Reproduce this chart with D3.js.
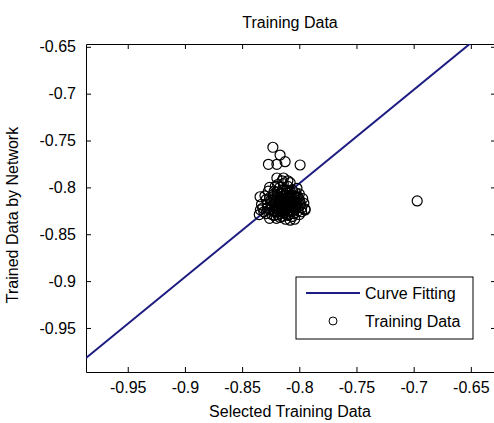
<!DOCTYPE html>
<html>
<head>
<meta charset="utf-8">
<script src="https://cdn.jsdelivr.net/npm/d3@7"></script>
<style>
  body { margin: 0; background: #fff; }
  svg { display: block; font-family: "Liberation Sans", Arial, sans-serif; }
  .axis path, .axis line { stroke: #000; }
</style>
</head>
<body>
<div id="chart"></div>
<script>
// ticks
const xTicks = [-0.95, -0.9, -0.85, -0.8, -0.75, -0.7, -0.65];
const yTicks = [-0.95, -0.9, -0.85, -0.8, -0.75, -0.7, -0.65];

// curve fitting line (two ends)
const fitX = [-0.9865, -0.6280];
const fitY = [-0.9820, -0.6240];

// training data (selected, trained)
const trainX = [
  -0.812, -0.815, -0.808, -0.818, -0.805, -0.811, -0.820, -0.809, -0.814, -0.803,
  -0.822, -0.816, -0.807, -0.801, -0.825, -0.819, -0.813, -0.806, -0.799, -0.828,
  -0.824, -0.817, -0.810, -0.804, -0.798, -0.800, -0.810, -0.817, -0.823, -0.829,
  -0.831, -0.826, -0.812, -0.806, -0.797, -0.802, -0.814, -0.821, -0.827, -0.833,
  -0.835, -0.811, -0.813, -0.809, -0.816, -0.807, -0.804, -0.818, -0.815, -0.810,
  -0.806, -0.802, -0.821, -0.823, -0.819, -0.812, -0.808, -0.803, -0.800, -0.799,
  -0.801, -0.805, -0.813, -0.819, -0.826, -0.828, -0.826, -0.822, -0.815, -0.811,
  -0.796, -0.795, -0.830, -0.832, -0.820, -0.808, -0.817, -0.814, -0.810, -0.807,
  -0.812, -0.816, -0.820, -0.824, -0.818, -0.803, -0.805, -0.809, -0.811, -0.815,
  -0.822, -0.829, -0.834, -0.798, -0.800, -0.804, -0.815, -0.808, -0.819, -0.826,
  -0.813, -0.817, -0.806, -0.809, -0.821,
  -0.814, -0.810, -0.806, -0.818, -0.822, -0.812, -0.808, -0.816, -0.820, -0.804,
  -0.811, -0.815, -0.809, -0.813, -0.817, -0.807, -0.819, -0.803, -0.825, -0.801,
  -0.812, -0.816, -0.810, -0.814, -0.808, -0.818, -0.806, -0.821, -0.823, -0.802,
  -0.8231, -0.8168, -0.8124, -0.8270, -0.8196, -0.7993, -0.7949, -0.8343, -0.6969,
  -0.8196, -0.8138, -0.8100
];
const trainY = [
  -0.815, -0.818, -0.812, -0.821, -0.816, -0.822, -0.812, -0.806, -0.809, -0.820,
  -0.825, -0.828, -0.826, -0.811, -0.817, -0.805, -0.802, -0.803, -0.817, -0.822,
  -0.829, -0.832, -0.830, -0.823, -0.822, -0.807, -0.799, -0.800, -0.808, -0.813,
  -0.826, -0.833, -0.834, -0.831, -0.812, -0.801, -0.796, -0.799, -0.804, -0.818,
  -0.829, -0.818, -0.813, -0.817, -0.814, -0.809, -0.813, -0.817, -0.823, -0.825,
  -0.820, -0.816, -0.819, -0.814, -0.810, -0.808, -0.804, -0.806, -0.813, -0.819,
  -0.825, -0.828, -0.827, -0.826, -0.824, -0.818, -0.811, -0.804, -0.803, -0.803,
  -0.817, -0.823, -0.809, -0.822, -0.833, -0.835, -0.811, -0.820, -0.811, -0.815,
  -0.820, -0.807, -0.815, -0.820, -0.824, -0.810, -0.809, -0.821, -0.828, -0.831,
  -0.830, -0.828, -0.824, -0.826, -0.829, -0.834, -0.793, -0.795, -0.797, -0.800,
  -0.816, -0.819, -0.818, -0.809, -0.822,
  -0.812, -0.814, -0.817, -0.815, -0.818, -0.824, -0.819, -0.811, -0.823, -0.815,
  -0.806, -0.826, -0.829, -0.820, -0.807, -0.822, -0.829, -0.818, -0.814, -0.821,
  -0.816, -0.816, -0.820, -0.825, -0.811, -0.814, -0.824, -0.826, -0.810, -0.809,
  -0.7572, -0.7655, -0.7726, -0.7754, -0.7754, -0.7761, -0.8241, -0.8100, -0.8145,
  -0.7900, -0.7900, -0.7930
];

const W = 494, H = 423;
const mg = { left: 86, top: 44, right: 496, bottom: 372 };

const svg = d3.select('#chart').append('svg')
  .attr('width', W)
  .attr('height', H);

const x = d3.scaleLinear().domain([-0.9865, -0.6280]).range([mg.left, mg.right]);
const y = d3.scaleLinear().domain([-0.997, -0.647]).range([mg.bottom, mg.top]);

svg.append('clipPath').attr('id', 'plot-clip')
  .append('rect')
  .attr('x', mg.left).attr('y', mg.top)
  .attr('width', mg.right - mg.left).attr('height', mg.bottom - mg.top);

// Axes: ticks inward on all four sides
const fmt = d => String(d);
const tickLen = 5;

svg.append('g').attr('class', 'axis')
  .attr('transform', `translate(0,${mg.bottom})`)
  .call(d3.axisBottom(x).tickValues(xTicks).tickSize(-tickLen).tickSizeOuter(0).tickPadding(10).tickFormat(fmt));

svg.append('g').attr('class', 'axis')
  .attr('transform', `translate(0,${mg.top})`)
  .call(d3.axisTop(x).tickValues(xTicks).tickSize(-tickLen).tickSizeOuter(0).tickFormat(''));

svg.append('g').attr('class', 'axis')
  .attr('transform', `translate(${mg.left},0)`)
  .call(d3.axisLeft(y).tickValues(yTicks).tickSize(-tickLen).tickSizeOuter(0).tickPadding(10).tickFormat(fmt));

svg.append('g').attr('class', 'axis')
  .attr('transform', `translate(${mg.right},0)`)
  .call(d3.axisRight(y).tickValues(yTicks).tickSize(-tickLen).tickSizeOuter(0).tickFormat(''));

svg.selectAll('.axis text')
  .style('font-size', '16px')
  .style('fill', '#000');

// Curve fitting line
const fitData = fitX.map((v, i) => ({ x: v, y: fitY[i] }));
svg.append('path')
  .datum(fitData)
  .attr('clip-path', 'url(#plot-clip)')
  .attr('fill', 'none')
  .attr('stroke', '#1c1c82')
  .attr('stroke-width', 2)
  .attr('d', d3.line().x(d => x(d.x)).y(d => y(d.y)));

// Training points
const pts = trainX.map((v, i) => ({ x: v, y: trainY[i] }));
svg.append('g')
  .attr('clip-path', 'url(#plot-clip)')
  .selectAll('circle')
  .data(pts)
  .enter().append('circle')
  .attr('cx', d => x(d.x))
  .attr('cy', d => y(d.y))
  .attr('r', 5)
  .attr('fill', 'none')
  .attr('stroke', '#000')
  .attr('stroke-width', 1.2);

// Title and labels
svg.append('text')
  .attr('x', 290).attr('y', 28)
  .attr('text-anchor', 'middle')
  .style('font-size', '16px')
  .text('Training Data');

svg.append('text')
  .attr('x', 290).attr('y', 417)
  .attr('text-anchor', 'middle')
  .style('font-size', '16px')
  .text('Selected Training Data');

svg.append('text')
  .attr('transform', 'translate(18,215) rotate(-90)')
  .attr('text-anchor', 'middle')
  .style('font-size', '16px')
  .text('Trained Data by Network');

// Legend
const lg = svg.append('g').attr('transform', 'translate(296,277)');
lg.append('rect')
  .attr('width', 177).attr('height', 62)
  .attr('fill', '#fff').attr('stroke', '#000');
lg.append('line')
  .attr('x1', 10).attr('x2', 64).attr('y1', 16).attr('y2', 16)
  .attr('stroke', '#1c1c82').attr('stroke-width', 2);
lg.append('text')
  .attr('x', 69).attr('y', 22)
  .style('font-size', '16px')
  .text('Curve Fitting');
lg.append('circle')
  .attr('cx', 37).attr('cy', 44).attr('r', 4)
  .attr('fill', 'none').attr('stroke', '#000');
lg.append('text')
  .attr('x', 69).attr('y', 50)
  .style('font-size', '16px')
  .text('Training Data');
</script>
</body>
</html>
